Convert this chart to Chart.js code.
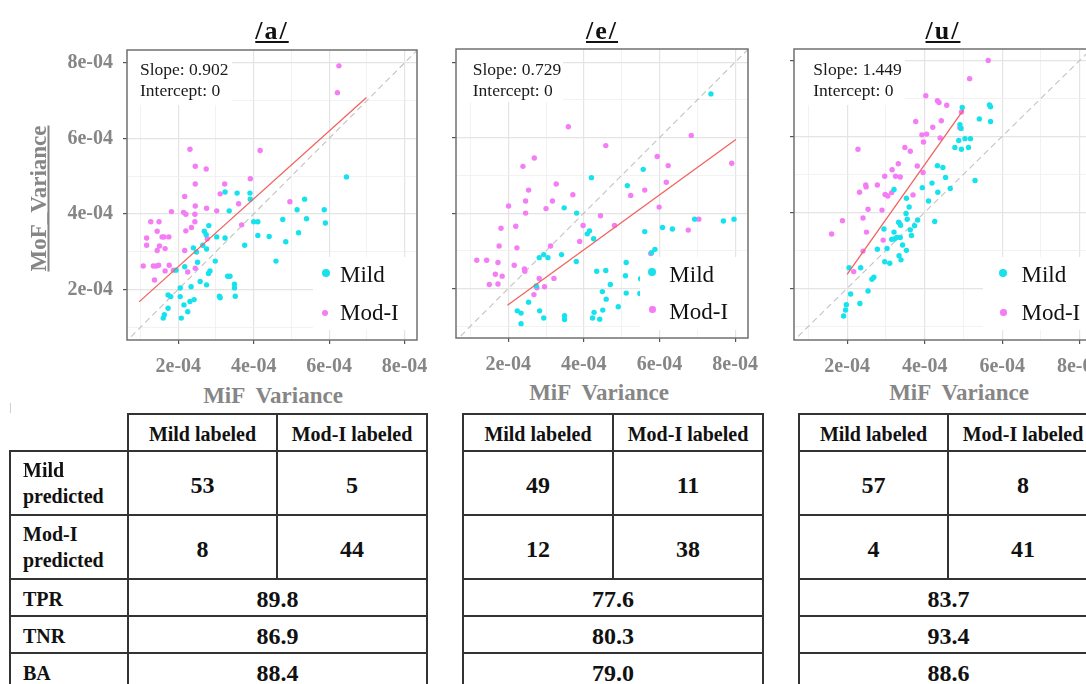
<!DOCTYPE html>
<html><head><meta charset="utf-8">
<script src="https://cdn.jsdelivr.net/npm/chart.js@4.4.1/dist/chart.umd.min.js"></script>
<style>
html,body{margin:0;padding:0;background:#fff;}
body{width:1086px;height:684px;overflow:hidden;position:relative;font-family:'Liberation Serif','Times New Roman',serif;}
canvas{position:absolute;}
.t{position:absolute;white-space:pre;}
.ln{position:absolute;background:#333;}
</style></head><body>
<script>
// ---- values in units of 1e-4 ----
const aMild = [[6.46,4.98],[5.35,4.39],[5.15,4.11],[5.87,4.11],[5.90,3.76],[5.40,3.87],[5.19,3.50],[4.77,3.85],[4.85,3.26],[4.41,3.40],[4.59,2.75],[4.11,3.79],[4.00,3.79],[4.11,3.43],[3.91,4.39],[3.90,4.55],[3.56,4.55],[3.24,4.58],[3.35,4.08],[3.24,3.36],[3.02,3.39],[3.76,3.17],[2.81,3.69],[2.69,3.54],[2.74,3.45],[2.65,3.17],[2.75,3.07],[2.40,3.10],[2.48,2.99],[2.51,2.72],[2.98,2.75],[2.84,2.49],[2.80,2.42],[2.58,2.21],[2.75,2.12],[2.34,2.07],[2.17,2.60],[1.94,2.51],[2.05,2.04],[2.05,1.81],[2.15,1.59],[2.25,1.41],[2.08,1.24],[2.31,1.68],[2.42,1.73],[1.73,1.85],[1.80,1.81],[1.73,1.50],[1.63,1.33],[1.60,1.24],[3.31,2.35],[3.37,2.35],[3.49,2.14],[3.49,2.04],[3.51,1.82],[3.09,1.82],[3.11,1.78]];
const aMod = [[6.26,7.92],[6.22,7.21],[4.17,5.68],[2.31,5.71],[2.45,5.26],[2.74,5.19],[2.45,4.79],[3.91,4.93],[3.23,4.79],[3.11,4.53],[3.60,4.27],[4.96,4.32],[2.17,4.46],[2.45,4.21],[2.75,4.15],[3.02,4.08],[1.82,4.06],[2.14,4.04],[2.20,3.99],[2.44,3.99],[2.44,3.79],[2.35,3.64],[2.20,3.55],[3.68,3.71],[2.77,3.34],[1.27,3.79],[1.49,3.79],[1.44,3.54],[1.16,3.36],[1.57,3.39],[1.62,3.39],[1.75,3.39],[1.16,3.17],[1.50,3.15],[1.44,3.03],[1.65,3.08],[2.17,3.03],[1.07,2.62],[1.34,2.62],[1.42,2.62],[1.48,2.64],[1.76,2.64],[1.65,2.49],[1.37,2.25],[1.87,2.51],[2.25,2.46],[2.45,2.56]];
const aFit = [[0.96,1.67],[6.99,7.08]];

const eMild = [[7.36,7.16],[5.57,5.16],[4.20,4.94],[5.15,4.73],[3.48,4.14],[3.81,4.00],[4.15,3.53],[4.09,3.45],[4.26,3.32],[5.61,3.51],[6.08,3.62],[6.34,3.58],[6.93,3.84],[7.69,3.79],[7.97,3.84],[5.88,3.04],[5.79,2.95],[3.41,2.90],[3.05,2.82],[2.94,2.90],[2.82,2.82],[3.80,2.72],[5.12,2.69],[4.34,2.46],[4.58,2.48],[5.10,2.34],[4.70,2.11],[2.74,2.07],[4.49,1.92],[4.59,1.72],[5.12,1.88],[5.48,1.87],[5.50,2.26],[4.91,1.52],[4.50,1.43],[4.27,1.37],[4.23,1.22],[4.42,1.19],[3.49,1.28],[3.49,1.18],[2.94,1.22],[2.83,1.41],[2.54,1.64],[2.24,1.41],[2.34,1.35],[2.34,1.07]];
const eMod = [[3.59,6.29],[4.58,5.79],[6.84,6.06],[2.69,5.46],[2.39,5.24],[5.94,5.50],[6.23,5.26],[7.91,5.32],[6.18,4.82],[3.27,4.77],[2.54,4.61],[3.71,4.49],[5.24,4.47],[5.61,4.61],[2.46,4.32],[3.17,4.32],[2.01,4.19],[3.00,4.12],[2.46,4.00],[5.99,4.16],[4.44,3.93],[7.04,3.84],[3.98,3.67],[4.81,3.67],[2.20,3.65],[1.81,3.60],[6.76,3.55],[3.89,3.25],[3.12,3.13],[1.76,3.13],[2.23,3.08],[5.77,2.93],[1.17,2.75],[1.43,2.75],[1.73,2.69],[2.16,2.62],[2.43,2.52],[2.44,2.46],[1.66,2.38],[1.84,2.33],[1.50,2.11],[1.73,2.12],[2.82,2.27],[3.21,2.27],[2.76,2.02],[2.96,2.05],[2.68,1.84]];
const eFit = [[1.98,1.56],[8.02,5.95]];

const uMild = [[4.97,6.76],[5.67,6.83],[5.70,6.78],[5.70,6.39],[5.41,6.46],[4.91,6.31],[4.94,6.21],[4.88,5.89],[5.04,5.94],[5.18,5.94],[5.13,5.71],[4.78,5.71],[4.95,5.66],[5.30,4.84],[4.33,5.23],[4.47,5.18],[4.54,4.92],[4.19,4.77],[3.94,4.65],[4.66,4.63],[4.34,4.53],[4.10,4.30],[3.53,4.37],[3.21,4.60],[3.60,4.14],[3.52,3.97],[3.55,3.82],[3.82,3.80],[3.74,3.65],[4.26,3.76],[3.33,3.74],[3.38,3.66],[3.63,3.54],[3.66,3.39],[2.95,3.56],[3.21,3.48],[3.15,3.29],[3.22,3.30],[3.28,3.34],[3.37,3.34],[3.43,3.14],[3.53,3.00],[3.03,3.05],[2.78,3.03],[3.34,2.86],[3.39,2.75],[2.97,2.70],[3.10,2.66],[2.05,2.54],[2.35,2.54],[2.69,2.29],[2.64,2.24],[2.54,1.93],[2.09,1.85],[2.33,1.60],[1.98,1.57],[1.96,1.43],[1.91,1.27]];
const uMod = [[5.64,8.00],[5.16,7.52],[4.03,7.07],[4.33,6.94],[4.37,6.89],[4.57,6.82],[4.95,6.64],[3.77,6.39],[4.43,6.41],[4.21,6.24],[4.91,6.23],[3.93,6.04],[4.05,6.06],[3.97,5.85],[4.40,5.96],[2.28,5.66],[3.49,5.71],[3.63,5.61],[3.32,5.28],[3.81,5.22],[3.16,5.12],[3.96,5.05],[3.25,4.95],[3.37,4.93],[2.97,4.95],[2.48,4.72],[2.49,4.67],[2.78,4.72],[2.32,4.53],[3.15,4.52],[2.98,4.47],[3.05,4.43],[3.70,4.46],[2.54,4.08],[2.90,4.06],[2.41,3.85],[1.88,3.78],[3.34,3.73],[2.50,3.48],[1.60,3.43],[2.93,3.27],[2.41,2.98],[2.17,2.44]];
const uFit = [[2.00,2.37],[5.00,6.70]];

const refLine = [0, 9];               // y = x reference
const gridVals = [1,2,3,4,5,6,7,8];   // grid positions
const majorVals = [2,4,6,8];          // labelled ticks
const titles = ['/a/','/e/','/u/'];
const slopes = ['0.902','0.729','1.449'];
const intercepts = ['0','0','0'];
const legendNames = ['Mild','Mod-I'];
const headers = ['Mild labeled','Mod-I labeled'];
const rowLabels = [['Mild','predicted'],['Mod-I','predicted'],['TPR'],['TNR'],['BA']];
const cmA = [[53,5],[8,44]], cmE = [[49,11],[12,38]], cmU = [[57,8],[4,41]];
const metA = ['89.8','86.9','88.4'], metE = ['77.6','80.3','79.0'], metU = ['83.7','93.4','88.6'];

const CYAN = '#16e2ee', MAG = '#f47cf4', RED = '#f2625e', GRAY = '#868686';
const FAM = "'Liberation Serif','Times New Roman',serif";

function txt(s, x, cy, fs, o = {}) {
  const d = document.createElement('div');
  d.className = 't';
  d.textContent = s;
  d.style.fontSize = fs + 'px';
  d.style.lineHeight = fs + 'px';
  d.style.fontWeight = o.bold ? 'bold' : 'normal';
  d.style.color = o.color || '#111';
  d.style.top = (cy - fs / 2) + 'px';
  if (o.center) { d.style.left = (x - 200) + 'px'; d.style.width = '400px'; d.style.textAlign = 'center'; }
  else d.style.left = x + 'px';
  if (o.underline) d.style.textDecoration = 'underline';
  if (o.ls) d.style.letterSpacing = o.ls + 'px';
  if (o.rot) { d.style.transform = 'rotate(-90deg)'; d.style.transformOrigin = '50% 50%'; }
  document.body.appendChild(d);
  return d;
}
function dot(x, y, r, col) {
  const d = document.createElement('div');
  d.style.cssText = `position:absolute;left:${x-r}px;top:${y-r}px;width:${2*r}px;height:${2*r}px;border-radius:50%;background:${col};`;
  document.body.appendChild(d);
}

const decor = {
  id: 'decor',
  afterDatasetsDraw(chart, args, o) {
    const {ctx, chartArea: a} = chart;
    ctx.save();
    ctx.fillStyle = '#fff';
    ctx.fillRect(a.left + 1, a.top + 1, o.note[0], o.note[1]);
    ctx.fillRect(a.right - o.leg[0], a.top + o.leg[1], o.leg[0] - 1, o.leg[2]);
    ctx.strokeStyle = '#707070';
    ctx.lineWidth = 1.5;
    ctx.strokeRect(a.left, a.top, a.right - a.left, a.bottom - a.top);
    ctx.restore();
  }
};

const isMajor = ctx => ctx.tick && majorVals.includes(ctx.tick.value);
const gridOpts = {
  color: ctx => isMajor(ctx) ? '#e4e4e4' : '#efefef',
  lineWidth: ctx => isMajor(ctx) ? 1.2 : 0.8,
  tickColor: ctx => isMajor(ctx) ? '#555' : 'rgba(0,0,0,0)',
  tickLength: 4, tickWidth: 1.2, drawTicks: true
};
const noPad = s => { s.paddingTop = 0; s.paddingBottom = 0; s.paddingLeft = 0; s.paddingRight = 0; };

function makeChart(p) {
  const cv = document.createElement('canvas');
  cv.width = p.cw; cv.height = p.ch;
  cv.style.left = p.cx + 'px'; cv.style.top = p.cy + 'px';
  cv.style.width = p.cw + 'px'; cv.style.height = p.ch + 'px';
  document.body.appendChild(cv);
  const pts = arr => arr.map(([x, y]) => ({x, y}));
  const tickFont = {family: FAM, size: 20, weight: 'bold'};
  new Chart(cv, {
    type: 'scatter',
    data: {datasets: [
      {data: pts(p.fit), showLine: true, borderColor: RED, borderWidth: 1.3, pointRadius: 0, order: 1},
      {data: pts(p.mild), backgroundColor: CYAN, pointRadius: 2.7, borderWidth: 0, order: 2},
      {data: pts(p.mod), backgroundColor: MAG, pointRadius: 2.7, borderWidth: 0, order: 3},
      {data: refLine.map(v => ({x: v, y: v})), showLine: true, borderColor: '#c2c2c2', borderDash: [6, 4], borderWidth: 1.1, pointRadius: 0, order: 4}
    ]},
    options: {
      responsive: false, animation: false, devicePixelRatio: 1,
      layout: {autoPadding: false, padding: {top: p.pt, right: p.pr, left: 0, bottom: 0}},
      plugins: {legend: {display: false}, tooltip: {enabled: false}, decor: {note: p.note, leg: p.leg}},
      scales: {
        x: {type: 'linear', min: p.xr[0], max: p.xr[1],
            afterFit: s => { s.height = p.xh; noPad(s); },
            afterBuildTicks: s => { s.ticks = gridVals.map(v => ({value: v})); },
            grid: gridOpts, border: {display: false},
            ticks: {autoSkip: false, maxRotation: 0, padding: 11, color: GRAY, font: tickFont,
                    callback: v => majorVals.includes(v) ? v + 'e-04' : ''}},
        y: {type: 'linear', min: p.yr[0], max: p.yr[1],
            afterFit: s => { s.width = p.yw; noPad(s); },
            afterBuildTicks: s => { s.ticks = gridVals.map(v => ({value: v})); },
            grid: gridOpts, border: {display: false},
            ticks: {autoSkip: false, padding: 10, color: GRAY, font: tickFont,
                    callback: v => (p.yLab && majorVals.includes(v)) ? v + 'e-04' : ''}}
      }
    },
    plugins: [decor]
  });
}

makeChart({cx: 0, cy: 40, cw: 440, ch: 340, pt: 10, pr: 23, xh: 40, yw: 127, yLab: true,
  xr: [0.64, 8.33], yr: [0.66, 8.34], mild: aMild, mod: aMod, fit: aFit,
  note: [104, 54], leg: [104, 207, 73]});
makeChart({cx: 440, cy: 40, cw: 330, ch: 340, pt: 9, pr: 22, xh: 42, yw: 16, yLab: false,
  xr: [0.62, 8.34], yr: [0.69, 8.35], mild: eMild, mod: eMod, fit: eFit,
  note: [106, 52], leg: [108, 208, 73]});
makeChart({cx: 770, cy: 40, cw: 350, ch: 340, pt: 9, pr: 24, xh: 40, yw: 24, yLab: false,
  xr: [0.63, 8.42], yr: [0.64, 8.30], mild: uMild, mod: uMod, fit: uFit,
  note: [110, 55], leg: [113, 208, 73]});

// titles
[272, 602, 943].forEach((cx, i) => txt(titles[i], cx, 30.5, 26, {bold: true, center: true, underline: true, ls: 2}));
// axis titles
txt('MoF_Variance', 37.5, 198, 23, {bold: true, center: true, underline: true, rot: true, color: GRAY});
[[273, 395], [599, 392], [959, 392]].forEach(([x, y]) => txt('MiF  Variance', x, y, 23, {bold: true, center: true, color: GRAY}));
// annotations
[140, 472.7, 813.3].forEach((x, i) => {
  txt('Slope: ' + slopes[i], x, 69.3, 17.5, {color: '#1a1a1a'});
  txt('Intercept: ' + intercepts[i], x, 90.7, 17.5, {color: '#1a1a1a'});
});
// legends
const legPos = [
  {d: [[326, 273], [325, 313]], tx: 340, ty: [274, 312.7]},
  {d: [[651.7, 272.3], [652.3, 309.3]], tx: 669.3, ty: [274, 311.7]},
  {d: [[1003.3, 273.3], [1003.3, 312.7]], tx: 1021.5, ty: [274, 312.7]}
];
legPos.forEach(L => {
  dot(L.d[0][0], L.d[0][1], 4, CYAN);
  dot(L.d[1][0], L.d[1][1], 3.3, MAG);
  txt(legendNames[0], L.tx, L.ty[0], 23);
  txt(legendNames[1], L.tx, L.ty[1], 23);
});

// tables
const rowEdges = [414, 451, 515, 579, 616, 653, 690];
function hline(x1, x2, y) {
  const d = document.createElement('div'); d.className = 'ln';
  d.style.cssText += `left:${x1 - 0.75}px;top:${y - 0.75}px;width:${x2 - x1 + 1.5}px;height:1.5px;`;
  document.body.appendChild(d);
}
function vline(x, y1, y2) {
  const d = document.createElement('div'); d.className = 'ln';
  d.style.cssText += `left:${x - 0.75}px;top:${y1 - 0.75}px;width:1.5px;height:${y2 - y1 + 1.5}px;`;
  document.body.appendChild(d);
}
const rc = i => (rowEdges[i] + rowEdges[i + 1]) / 2;
function drawTable(xs, cm, met, labelX) {
  const [x0, xm, x1] = xs;
  const left = labelX != null ? labelX : x0;
  hline(x0, x1, rowEdges[0]);
  for (let i = 1; i < rowEdges.length - 1; i++) hline(left, x1, rowEdges[i]);
  vline(x0, rowEdges[0], rowEdges[6]);
  vline(x1, rowEdges[0], rowEdges[6]);
  vline(xm, rowEdges[0], rowEdges[3]);
  if (labelX != null) vline(labelX, rowEdges[1], rowEdges[6]);
  txt(headers[0], (x0 + xm) / 2, rc(0) + 1, 20, {bold: true, center: true});
  txt(headers[1], (xm + x1) / 2, rc(0) + 1, 20, {bold: true, center: true});
  for (let r = 0; r < 2; r++) for (let c = 0; c < 2; c++)
    txt(String(cm[r][c]), c === 0 ? (x0 + xm) / 2 : (xm + x1) / 2, rc(r + 1) + 2, 24, {bold: true, center: true});
  met.forEach((m, k) => txt(m, (x0 + x1) / 2, rc(k + 3) + 1, 24, {bold: true, center: true}));
  if (labelX != null) {
    rowLabels.forEach((lab, k) => {
      const c = rc(k + 1);
      if (lab.length === 2) { txt(lab[0], 23, c - 13, 20, {bold: true}); txt(lab[1], 23, c + 13, 20, {bold: true}); }
      else txt(lab[0], 23, c + 1, 20, {bold: true});
    });
  }
}
drawTable([128, 277, 427], cmA, metA, 10);
drawTable([463, 613, 763], cmE, metE, null);
drawTable([799, 948, 1098], cmU, metU, null);
// small stray mark left of table
const sm = document.createElement('div');
sm.style.cssText = 'position:absolute;left:10px;top:403px;width:1px;height:10px;background:#cfcfcf;';
document.body.appendChild(sm);
</script>
</body></html>
